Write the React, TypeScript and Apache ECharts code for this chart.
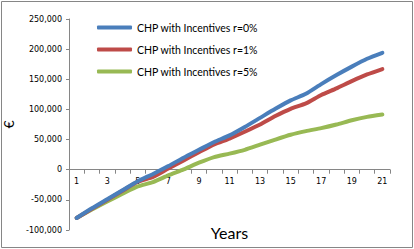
import React, { useEffect, useRef } from "react";
import * as echarts from "echarts";

const years = ["1","2","3","4","5","6","7","8","9","10","11","12","13","14","15","16","17","18","19","20","21"];
const seriesNames = ["CHP with Incentives r=0%", "CHP with Incentives r=1%", "CHP with Incentives r=5%"];
const r0 = [-80000,-64000,-49000,-34000,-19000,-7000,6000,20000,33000,46000,57000,71000,86000,101000,115000,126000,142000,157000,171000,184000,194000];
const r1 = [-80000,-65000,-50000,-35000,-20000,-12000,2000,15500,29000,42000,51500,63000,75000,89000,101000,110000,124000,135000,147000,158000,167000];
const r5 = [-80000,-66000,-52700,-40000,-27700,-20500,-9400,500,11600,21000,26600,33000,41500,50000,58000,64000,69000,75000,82000,87600,91500];
const colors = ["#4A7EBB", "#BE4B48", "#98B954"];

const Y_MIN = -100000;
const Y_MAX = 250000;
const GRID_TOP = 19;
const GRID_BOTTOM = 19;
const CHART_H = 249;

export default function App() {
  const ref = useRef<HTMLDivElement>(null);
  useEffect(() => {
    if (!ref.current) return;
    const chart = echarts.init(ref.current, null, { renderer: "svg" });
    const datas = [r0, r1, r5];
    const plotH = CHART_H - GRID_TOP - GRID_BOTTOM;
    // distance from bottom of plot to the zero line, so the category axis sits on zero
    const zeroShift = (-Y_MIN / (Y_MAX - Y_MIN)) * plotH;
    chart.setOption({
      animation: false,
      backgroundColor: "#ffffff",
      graphic: [
        {
          type: "rect",
          shape: { x: 1.5, y: 1.5, width: 411, height: 246 },
          style: { fill: "none", stroke: "#868686", lineWidth: 1 },
          silent: true,
        },
      ],
      grid: { left: 69, right: 24, top: GRID_TOP, bottom: GRID_BOTTOM, containLabel: false, outerBoundsMode: "none" },
      legend: {
        orient: "vertical",
        left: 92,
        top: 17,
        itemWidth: 35,
        itemHeight: 4,
        itemGap: 11,
        icon: "roundRect",
        textStyle: { fontFamily: "Lato", fontSize: 10.5, color: "#000" },
        data: seriesNames,
      },
      xAxis: {
        type: "category",
        data: years,
        boundaryGap: true,
        name: "Years",
        nameLocation: "middle",
        nameGap: 55,
        nameTextStyle: { fontFamily: "Lato", fontSize: 16, color: "#000" },
        offset: -zeroShift,
        axisLine: { onZero: false, lineStyle: { color: "#868686", width: 1 } },
        axisTick: { show: true, interval: 0, length: 4, inside: false, lineStyle: { color: "#868686" } },
        axisLabel: { interval: 1, margin: 8, fontFamily: "DejaVu Sans", fontSize: 8, color: "#000" },
        splitLine: { show: false },
      },
      yAxis: {
        type: "value",
        min: Y_MIN,
        max: Y_MAX,
        interval: 50000,
        name: "€",
        nameLocation: "middle",
        nameGap: 37,
        nameRotate: 90,
        nameTextStyle: { fontFamily: "Lato", fontSize: 14, color: "#000" },
        axisLine: { show: true, lineStyle: { color: "#868686", width: 1 } },
        axisTick: { show: true, length: 3, lineStyle: { color: "#868686" } },
        axisLabel: {
          margin: 7,
          fontFamily: "DejaVu Sans",
          fontSize: 8,
          color: "#000",
          formatter: (v: number) => v.toLocaleString("en-US"),
        },
        splitLine: { show: false },
      },
      series: seriesNames.map((name, i) => ({
        name,
        type: "line",
        data: datas[i],
        symbol: "none",
        smooth: 0.2,
        color: colors[i],
        lineStyle: { color: colors[i], width: 4, cap: "round", join: "round" },
        z: 3 - i,
      })),
    });
    return () => chart.dispose();
  }, []);
  return (
    <div
      ref={ref}
      style={{ position: "absolute", left: 0, top: 0, width: 414, height: 249 }}
    />
  );
}
